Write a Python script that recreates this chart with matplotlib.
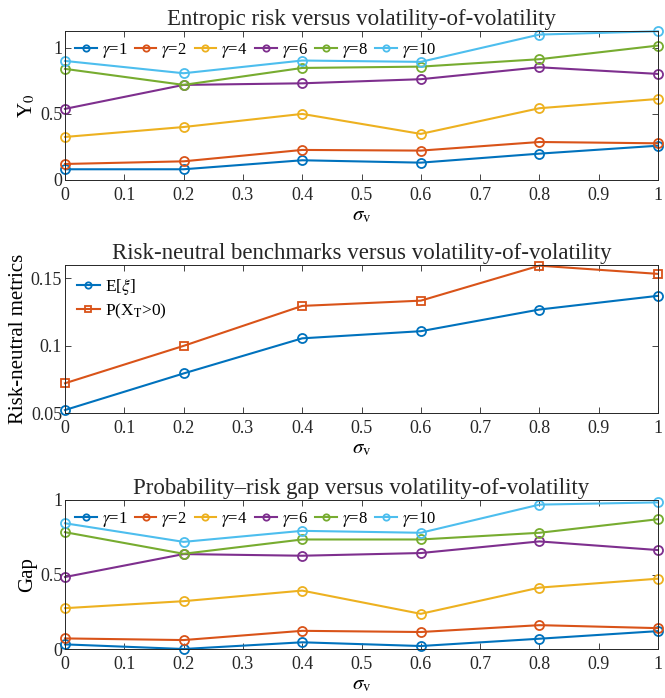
import matplotlib
matplotlib.use("Agg")
import matplotlib.pyplot as plt

plt.rcParams['font.family'] = ['Liberation Serif', 'DejaVu Serif']
plt.rcParams['mathtext.fontset'] = 'stix'

sigma_v = [0, 0.2, 0.4, 0.6, 0.8, 1.0]
gammas = [1, 2, 4, 6, 8, 10]

Y0_g1 = [0.081, 0.081, 0.149, 0.131, 0.199, 0.259]
Y0_g2 = [0.121, 0.141, 0.227, 0.222, 0.287, 0.277]
Y0_g4 = [0.325, 0.400, 0.499, 0.348, 0.542, 0.612]
Y0_g6 = [0.537, 0.718, 0.730, 0.761, 0.851, 0.801]
Y0_g8 = [0.839, 0.718, 0.846, 0.856, 0.912, 1.015]
Y0_g10 = [0.899, 0.806, 0.902, 0.892, 1.098, 1.123]

E_xi = [0.0522, 0.0794, 0.1055, 0.1108, 0.1269, 0.1371]
P_XT = [0.0721, 0.0999, 0.1296, 0.1335, 0.1595, 0.1534]

Gap_g1 = [0.031, 0.000, 0.045, 0.020, 0.069, 0.120]
Gap_g2 = [0.071, 0.060, 0.122, 0.114, 0.160, 0.140]
Gap_g4 = [0.274, 0.321, 0.392, 0.236, 0.412, 0.472]
Gap_g6 = [0.483, 0.637, 0.626, 0.644, 0.722, 0.664]
Gap_g8 = [0.784, 0.639, 0.735, 0.735, 0.780, 0.871]
Gap_g10 = [0.844, 0.719, 0.793, 0.780, 0.969, 0.984]

colors = ['#0072BD', '#D95319', '#EDB120', '#7E2F8E', '#77AC30', '#4DBEEE']

fig = plt.figure(figsize=(6.65, 6.98), dpi=100)
W, H = 665, 698
def ax_at(l, t, r, b):
    return fig.add_axes([l / W, 1 - b / H, (r - l) / W, (b - t) / H])

def style(ax):
    ax.tick_params(direction='in', top=True, right=True, labelsize=13, length=4, width=0.6, colors='#262626')
    ax.tick_params(axis='y', pad=2)
    ax.tick_params(axis='x', pad=5)
    for s in ax.spines.values():
        s.set_linewidth(0.7)
        s.set_color('#262626')
    ax.set_xlim(0, 1)
    ax.set_xticks([0, 0.1, 0.2, 0.3, 0.4, 0.5, 0.6, 0.7, 0.8, 0.9, 1])
    ax.set_xticklabels(['0', '0.1', '0.2', '0.3', '0.4', '0.5', '0.6', '0.7', '0.8', '0.9', '1'])
    ax.set_xlabel(r'$\sigma_{\rm v}$', fontsize=15, labelpad=2)

mk = dict(marker='o', markersize=6.5, markerfacecolor='none', markeredgewidth=1.3, linewidth=1.5)
leg_kw = dict(loc='upper left', ncol=6, frameon=False, fontsize=12, handlelength=1.3,
              handletextpad=0.3, columnspacing=0.45, borderaxespad=0.2,
              bbox_to_anchor=(0.0, 1.0), markerscale=0.7)

R = 658

# Panel 1
ax1 = ax_at(65, 31, R, 180)
for ys, g, c in zip([Y0_g1, Y0_g2, Y0_g4, Y0_g6, Y0_g8, Y0_g10], gammas, colors):
    ax1.plot(sigma_v, ys, color=c, label=r'$\gamma$=%d' % g, **mk)
style(ax1)
ax1.set_ylim(0, 1.125)
ax1.set_yticks([0, 0.5, 1])
ax1.set_yticklabels(['0', '0.5', '1'])
ax1.set_ylabel(r'Y$_0$', fontsize=15, labelpad=2)
ax1.set_title('Entropic risk versus volatility-of-volatility', fontsize=16.5, pad=4, color='#262626')
ax1.legend(**leg_kw)

# Panel 2
ax2 = ax_at(65, 265, R, 413)
ax2.plot(sigma_v, E_xi, color=colors[0], label=r'E[$\xi$]', **mk)
mk2 = dict(mk)
mk2['marker'] = 's'
mk2['markersize'] = 6
ax2.plot(sigma_v, P_XT, color=colors[1], label=r'P(X$_{\rm T}$>0)', **mk2)
style(ax2)
ax2.set_ylim(0.05, 0.16)
ax2.set_yticks([0.05, 0.1, 0.15])
ax2.set_yticklabels(['0.05', '0.1', '0.15'])
ax2.set_ylabel('Risk-neutral metrics', fontsize=15, labelpad=2)
ax2.set_title('Risk-neutral benchmarks versus volatility-of-volatility', fontsize=16.5, pad=4, color='#262626')
ax2.legend(loc='upper left', frameon=False, fontsize=12.5, handlelength=1.3,
           handletextpad=0.3, borderaxespad=0.3, labelspacing=0.25, markerscale=0.7)

# Panel 3
ax3 = ax_at(65, 500, R, 649)
for ys, g, c in zip([Gap_g1, Gap_g2, Gap_g4, Gap_g6, Gap_g8, Gap_g10], gammas, colors):
    ax3.plot(sigma_v, ys, color=c, label=r'$\gamma$=%d' % g, **mk)
style(ax3)
ax3.set_ylim(0, 1)
ax3.set_yticks([0, 0.5, 1])
ax3.set_yticklabels(['0', '0.5', '1'])
ax3.set_ylabel('Gap', fontsize=15, labelpad=2)
ax3.set_title('Probability\u2013risk gap versus volatility-of-volatility', fontsize=16.5, pad=4, color='#262626')
ax3.legend(**leg_kw)

for ax in (ax1, ax2, ax3):
    for l in ax.lines:
        l.set_clip_on(False)

fig.savefig('out.png', dpi=100)
